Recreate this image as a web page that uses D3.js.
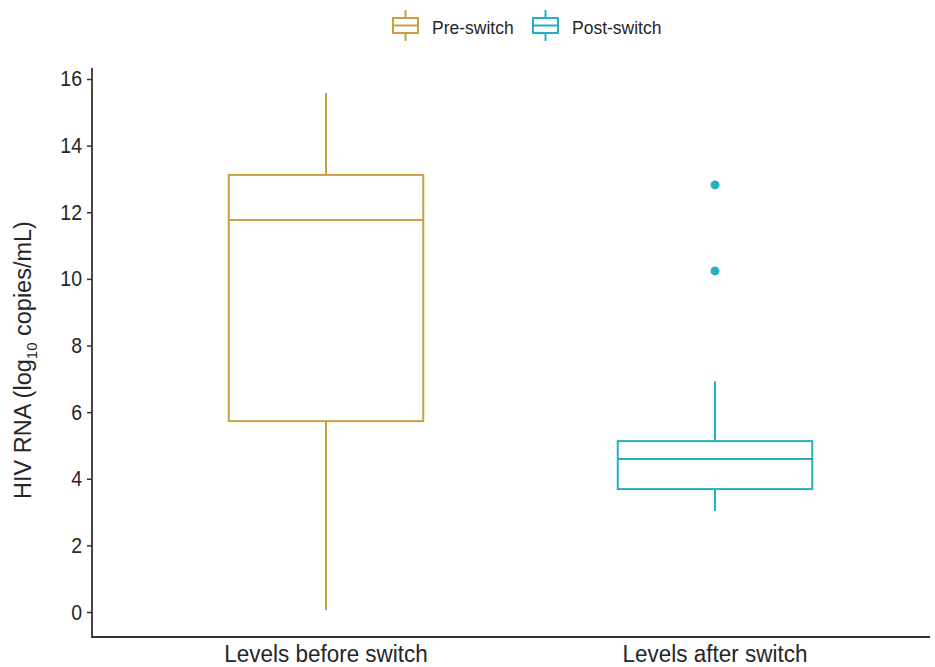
<!DOCTYPE html>
<html>
<head>
<meta charset="utf-8">
<script src="https://cdn.jsdelivr.net/npm/d3@7"></script>
<style>
  body { margin: 0; background: #fff; }
  svg { display: block; font-family: "Liberation Sans", Arial, sans-serif; }
</style>
</head>
<body>
<svg id="chart" width="935" height="667"></svg>
<script>
// Groups and box statistics (log10 copies/mL)
const categories = ["Levels before switch", "Levels after switch"];
const seriesNames = ["Pre-switch", "Post-switch"];
const colors = ["#C9A043", "#27AFC1"];
const whiskerLow = [0.06, 3.03];
const q1 = [5.73, 3.69];
const median = [11.77, 4.59];
const q3 = [13.12, 5.13];
const whiskerHigh = [15.58, 6.93];
const outliers = [[], [12.82, 10.24]];
const yTicks = [0, 2, 4, 6, 8, 10, 12, 14, 16];

const svg = d3.select("#chart");
const plotLeft = 92, plotRight = 930, plotTop = 68, plotBottom = 637;
const textColor = "#262626";

const y = d3.scaleLinear().domain([-0.75, 16.33]).range([plotBottom, plotTop]);
const x = d3.scaleBand().domain(categories).range([131.5, 909.5]).paddingInner(0.5).paddingOuter(0.25);
const boxW = x.bandwidth();

// Axes
const yAxis = svg.append("g")
  .attr("transform", `translate(${plotLeft},0)`)
  .call(d3.axisLeft(y).tickValues(yTicks).tickSize(5).tickPadding(5).tickSizeOuter(0));
yAxis.select(".domain").remove();
yAxis.selectAll(".tick line").attr("stroke", "#333").attr("stroke-width", 1.5);
yAxis.selectAll(".tick text").attr("font-size", 19.5).attr("fill", textColor)
  .attr("font-family", "Liberation Sans, Arial, sans-serif")
  .attr("transform", "scale(1,1.12)")
  .attr("y", 0);

svg.append("line").attr("x1", plotLeft).attr("x2", plotLeft).attr("y1", plotTop).attr("y2", plotBottom)
  .attr("stroke", "#333").attr("stroke-width", 1.8);
svg.append("line").attr("x1", plotLeft - 0.9).attr("x2", plotRight).attr("y1", plotBottom).attr("y2", plotBottom)
  .attr("stroke", "#333").attr("stroke-width", 1.8);

const xAxis = svg.append("g")
  .attr("transform", `translate(0,${plotBottom})`)
  .call(d3.axisBottom(x).tickSize(0).tickPadding(0));
xAxis.select(".domain").remove();
xAxis.selectAll(".tick text").attr("font-size", 22.5).attr("fill", textColor)
  .attr("font-family", "Liberation Sans, Arial, sans-serif")
  .attr("y", 0).attr("dy", 0)
  .attr("transform", "translate(0,24.5) scale(1,1.05)");

// Y axis title with subscript
const yTitle = svg.append("text")
  .attr("transform", `translate(31,360) rotate(-90)`)
  .attr("text-anchor", "middle")
  .attr("font-size", 23.5).attr("fill", textColor);
yTitle.append("tspan").text("HIV RNA (log");
yTitle.append("tspan").attr("font-size", 15).attr("dy", 6).text("10");
yTitle.append("tspan").attr("dy", -6).text(" copies/mL)");

// Box plots
categories.forEach((c, i) => {
  const g = svg.append("g").attr("stroke", colors[i]).attr("stroke-width", 2).attr("fill", "none");
  const cx = x(c) + boxW / 2;
  g.append("line").attr("x1", cx).attr("x2", cx).attr("y1", y(whiskerHigh[i])).attr("y2", y(q3[i]));
  g.append("line").attr("x1", cx).attr("x2", cx).attr("y1", y(q1[i])).attr("y2", y(whiskerLow[i]));
  g.append("rect").attr("x", x(c)).attr("width", boxW)
    .attr("y", y(q3[i])).attr("height", y(q1[i]) - y(q3[i])).attr("fill", "#fff");
  g.append("line").attr("x1", x(c)).attr("x2", x(c) + boxW).attr("y1", y(median[i])).attr("y2", y(median[i]));
  outliers[i].forEach(v => {
    svg.append("circle").attr("cx", cx).attr("cy", y(v)).attr("r", 4.5).attr("fill", colors[i]);
  });
});

// Legend
const legendX = [392, 532];
seriesNames.forEach((name, i) => {
  const lg = svg.append("g").attr("transform", `translate(${legendX[i]},0)`);
  const s = lg.append("g").attr("stroke", colors[i]).attr("stroke-width", 2).attr("fill", "none");
  s.append("line").attr("x1", 13.5).attr("x2", 13.5).attr("y1", 10).attr("y2", 18);
  s.append("line").attr("x1", 13.5).attr("x2", 13.5).attr("y1", 33).attr("y2", 41);
  s.append("rect").attr("x", 1).attr("y", 18).attr("width", 25).attr("height", 15);
  s.append("line").attr("x1", 1).attr("x2", 26).attr("y1", 25.5).attr("y2", 25.5);
  lg.append("text").attr("x", 40).attr("y", 33.5).attr("font-size", 17.5).attr("fill", textColor).text(name);
});
</script>
</body>
</html>
